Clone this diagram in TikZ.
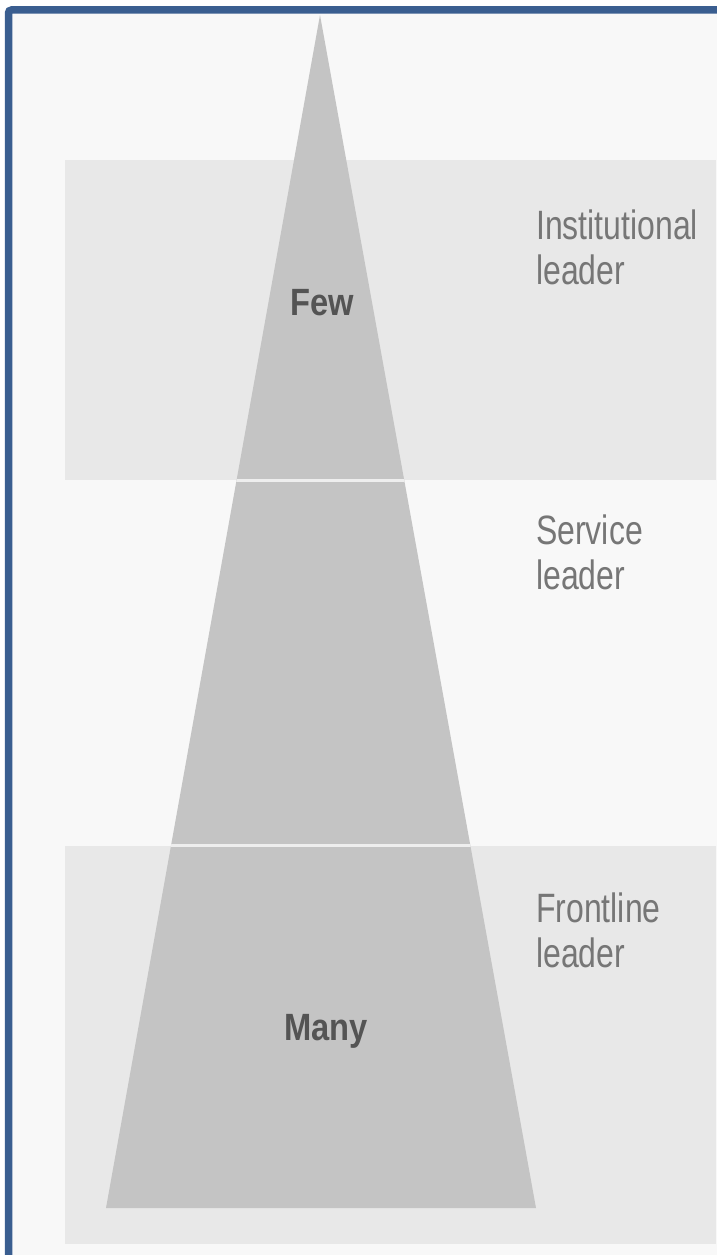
\documentclass[tikz,border=0pt]{standalone}
\usepackage{fontspec}
\setmainfont{Liberation Sans}
\newfontfamily\labelfont[FakeStretch=0.78]{Liberation Sans}
\newfontfamily\tierfont[FakeStretch=0.86]{Liberation Sans Bold}
\definecolor{frameblue}{HTML}{3A5E90}
\definecolor{pagebg}{HTML}{F8F8F8}
\definecolor{bandgray}{HTML}{E8E8E8}
\definecolor{pyramidgray}{HTML}{C4C4C4}
\definecolor{labelgray}{HTML}{767676}
\definecolor{tiergray}{HTML}{545454}
\begin{document}
\begin{tikzpicture}[x=1pt,y=-1pt,
  rolelabel/.style={anchor=base west,inner sep=0pt,text=labelgray,
    font=\labelfont\fontsize{41}{45}\selectfont,align=left},
  tierlabel/.style={anchor=base,inner sep=0pt,text=tiergray,
    font=\tierfont\fontsize{38}{44}\selectfont},
  band/.style={fill=bandgray},
  divider/.style={draw=pagebg!96!black,line width=2.6pt}]
\useasboundingbox (0,0) rectangle (716,1255);
\fill[white] (0,0) rectangle (716,1255);
% page with blue frame
\fill[pagebg] (8.5,10) rectangle (740,1256);
% shaded bands for the first and third tier
\fill[band] (65,160) rectangle (716,480);
\fill[band] (65,846) rectangle (716,1244);
% pyramid
\coordinate (apex) at (320,15);
\coordinate (bl) at (106,1208);
\coordinate (br) at (536,1208);
\fill[pyramidgray] (apex) -- (br) -- (bl) -- cycle;
\begin{scope}
  \clip (apex) -- (br) -- (bl) -- cycle;
  \draw[divider] (100,480.5) -- (560,480.5);
  \draw[divider] (100,845.5) -- (560,845.5);
\end{scope}
% frame
\draw[frameblue,line width=7.5pt,rounded corners=3pt] (8.5,10) rectangle (740,1259);
% labels (the base anchor sits on the second line)
\node[tierlabel] (few) at (322,315) {Few};
\node[tierlabel] (many) at (326,1040) {Many};
\node[rolelabel] (inst) at (536,284) {Institutional\\leader};
\node[rolelabel] (serv) at (536,589) {Service\\leader};
\node[rolelabel] (front) at (536,967) {Frontline\\leader};
\end{tikzpicture}
\end{document}
